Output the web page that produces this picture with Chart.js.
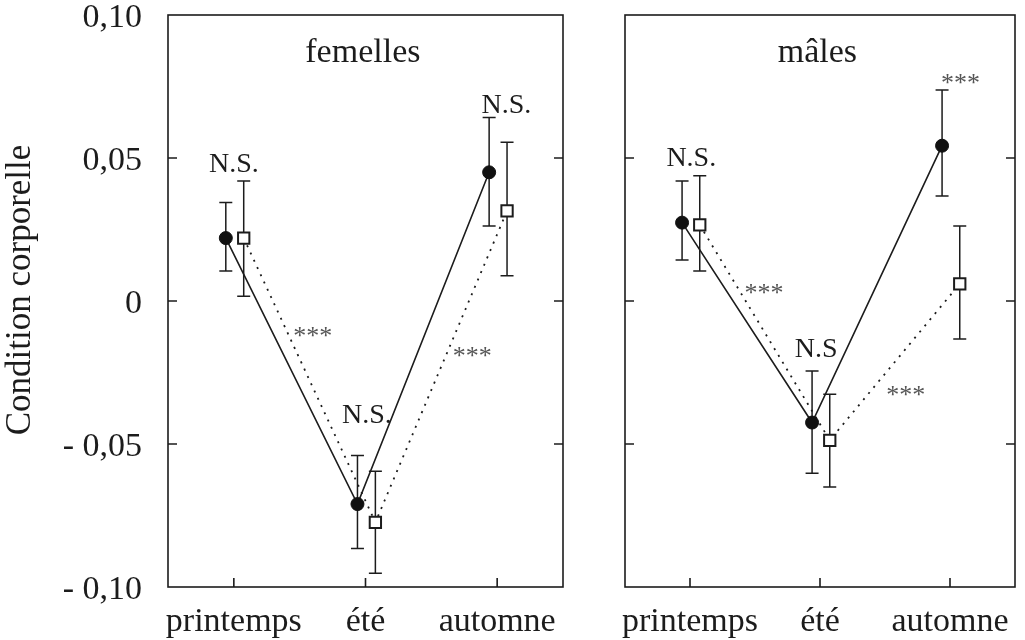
<!DOCTYPE html>
<html><head><meta charset="utf-8">
<script src="https://cdn.jsdelivr.net/npm/chart.js@4"></script>
<style>
body{margin:0;background:#fff;width:1025px;height:640px;position:relative;overflow:hidden}
#c1{position:absolute;left:0;top:0}
#c2{position:absolute;left:600px;top:0}
</style></head>
<body>
<canvas id="c1" width="600" height="640"></canvas>
<canvas id="c2" width="425" height="640"></canvas>
<script>
// ---- data ----
const seasons = ['printemps', 'été', 'automne'];
const yTickValues = [-0.10, -0.05, 0, 0.05, 0.10];
const yTickLabels = ['- 0,10', '- 0,05', '0', '0,05', '0,10'];
const yAxisTitle = 'Condition corporelle';
const panelTitles = ['femelles', 'mâles'];

// femelles
const femCircleMean = [0.022, -0.071, 0.045];
const femCircleHi   = [0.0344, -0.054, 0.0642];
const femCircleLo   = [0.0105, -0.0865, 0.0262];
const femSquareMean = [0.022, -0.0774, 0.0315];
const femSquareHi   = [0.042, -0.0595, 0.0555];
const femSquareLo   = [0.0017, -0.0952, 0.0088];
// mâles
const malCircleMean = [0.0274, -0.0425, 0.0543];
const malCircleHi   = [0.042, -0.0245, 0.0738];
const malCircleLo   = [0.0143, -0.0602, 0.0367];
const malSquareMean = [0.0266, -0.0487, 0.0060];
const malSquareHi   = [0.0438, -0.0326, 0.0262];
const malSquareLo   = [0.0105, -0.065, -0.0133];

// annotations (text, category position, value)
const femNotes = [
  {t: 'N.S.', x: 0, y: 0.045, big: true},
  {t: 'N.S.', x: 1.01, y: -0.0428, big: true},
  {t: 'N.S.', x: 2.07, y: 0.0658, big: true},
  {t: '***', x: 0.60, y: -0.015},
  {t: '***', x: 1.81, y: -0.022}
];
const malNotes = [
  {t: 'N.S.', x: 0.01, y: 0.0473, big: true},
  {t: 'N.S', x: 0.97, y: -0.0195, big: true},
  {t: '***', x: 2.08, y: 0.0734},
  {t: '***', x: 0.57, y: 0.0},
  {t: '***', x: 1.66, y: -0.0356}
];

// ---- style ----
const FONT = 'Liberation Serif';
const INK = '#1c1c1c';
const offCircle = -0.061, offSquare = 0.075;

function pts(mean, off) { return mean.map((v, i) => ({x: i + off, y: v})); }

function makePanel(canvasId, title, cm, chi, clo, sm, shi, slo, notes, showY) {
  const errs = [[chi, clo, offCircle], [shi, slo, offSquare]];
  const plugin = {
    id: 'panelDeco',
    beforeDatasetsDraw(chart) {
      const ctx = chart.ctx, xs = chart.scales.x, ys = chart.scales.y;
      ctx.save();
      ctx.strokeStyle = INK; ctx.lineWidth = 1.5;
      errs.forEach(([hi, lo, off]) => {
        hi.forEach((h, i) => {
          const x = xs.getPixelForValue(i + off);
          const yh = ys.getPixelForValue(h), yl = ys.getPixelForValue(lo[i]);
          ctx.beginPath();
          ctx.moveTo(x, yh); ctx.lineTo(x, yl);
          ctx.moveTo(x - 6.5, yh); ctx.lineTo(x + 6.5, yh);
          ctx.moveTo(x - 6.5, yl); ctx.lineTo(x + 6.5, yl);
          ctx.stroke();
        });
      });
      ctx.restore();
    },
    afterDraw(chart) {
      const ctx = chart.ctx, xs = chart.scales.x, ys = chart.scales.y;
      const a = chart.chartArea;
      ctx.save();
      ctx.strokeStyle = INK; ctx.lineWidth = 1.6;
      ctx.strokeRect(a.left, a.top, a.right - a.left, a.bottom - a.top);
      ctx.beginPath();
      yTickValues.slice(1, -1).forEach(v => {
        const y = ys.getPixelForValue(v);
        ctx.moveTo(a.left, y); ctx.lineTo(a.left + 9, y);
        ctx.moveTo(a.right, y); ctx.lineTo(a.right - 9, y);
      });
      seasons.forEach((s, i) => {
        const x = xs.getPixelForValue(i);
        ctx.moveTo(x, a.bottom); ctx.lineTo(x, a.bottom - 9);
      });
      ctx.stroke();
      // title
      ctx.fillStyle = INK;
      ctx.textAlign = 'center'; ctx.textBaseline = 'alphabetic';
      ctx.font = '34px "' + FONT + '"';
      ctx.fillText(title, xs.getPixelForValue(0.98), ys.getPixelForValue(0.0836));
      notes.forEach(n => {
        if (n.big) { ctx.font = '28px "' + FONT + '"'; ctx.fillStyle = INK; }
        else { ctx.font = '26px "' + FONT + '"'; ctx.fillStyle = '#555'; }
        ctx.fillText(n.t, xs.getPixelForValue(n.x), ys.getPixelForValue(n.y));
      });
      if (showY) {
        ctx.fillStyle = INK;
        ctx.font = '35px "' + FONT + '"';
        ctx.translate(21, 290);
        ctx.rotate(-Math.PI / 2);
        ctx.textAlign = 'center'; ctx.textBaseline = 'middle';
        ctx.fillText(yAxisTitle, 0, 0);
      }
      ctx.restore();
    }
  };

  return new Chart(document.getElementById(canvasId), {
    type: 'line',
    data: {
      datasets: [
        {
          data: pts(cm, offCircle),
          borderColor: INK, borderWidth: 1.6,
          pointRadius: 6.5, pointHoverRadius: 6.5,
          pointBackgroundColor: '#111', pointBorderColor: '#111', pointBorderWidth: 1,
          fill: false, tension: 0
        },
        {
          data: pts(sm, offSquare),
          borderColor: INK, borderWidth: 1.8, borderDash: [2, 6],
          pointStyle: 'rect', pointRadius: 8, pointHoverRadius: 8,
          pointBackgroundColor: '#fff', pointBorderColor: INK, pointBorderWidth: 2,
          fill: false, tension: 0
        }
      ]
    },
    options: {
      responsive: false, animation: false,
      layout: {padding: {top: 15, right: canvasId === 'c1' ? 37 : 5, left: showY ? 0 : 25, bottom: 0}},
      plugins: {legend: {display: false}, tooltip: {enabled: false}},
      scales: {
        x: {
          type: 'linear', min: -0.5, max: 2.5,
          afterBuildTicks: s => { s.ticks = seasons.map((_, i) => ({value: i})); },
          afterFit: s => { s.height = 53; s.paddingLeft = 0; s.paddingRight = 0; },
          grid: {display: false, drawTicks: false},
          border: {display: false},
          ticks: {
            callback: v => seasons[v],
            font: {family: FONT, size: 34, lineHeight: 1.2},
            color: INK, padding: 15, maxRotation: 0, autoSkip: false
          }
        },
        y: {
          display: showY,
          min: -0.10, max: 0.10,
          afterBuildTicks: s => { s.ticks = yTickValues.map(v => ({value: v})); },
          afterFit: s => { s.width = showY ? 168 : 0; s.paddingTop = 0; s.paddingBottom = 0; },
          grid: {display: false, drawTicks: false},
          border: {display: false},
          ticks: {
            callback: (v, i) => yTickLabels[i],
            font: {family: FONT, size: 34, lineHeight: 1.2},
            color: INK, padding: 26, labelOffset: 3
          }
        }
      }
    },
    plugins: [plugin]
  });
}

makePanel('c1', panelTitles[0], femCircleMean, femCircleHi, femCircleLo,
  femSquareMean, femSquareHi, femSquareLo, femNotes, true);
makePanel('c2', panelTitles[1], malCircleMean, malCircleHi, malCircleLo,
  malSquareMean, malSquareHi, malSquareLo, malNotes, false);
</script>
</body></html>
